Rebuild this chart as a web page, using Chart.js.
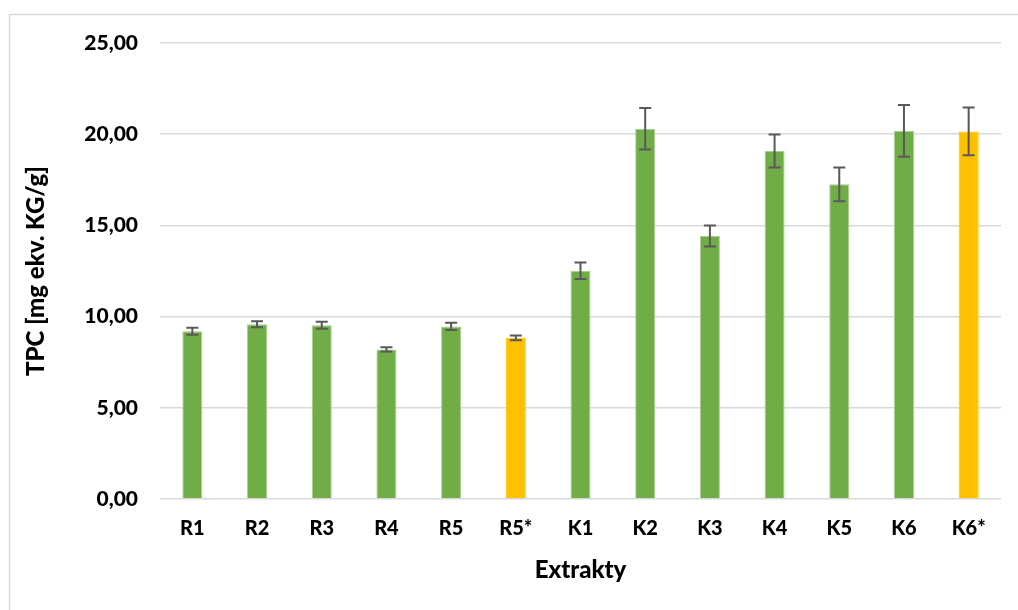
<!DOCTYPE html>
<html>
<head>
<meta charset="utf-8">
<script src="https://cdn.jsdelivr.net/npm/chart.js@4"></script>
<style>
  html, body { margin: 0; padding: 0; background: #ffffff; overflow: hidden; }
  #wrap { width: 1018px; height: 610px; position: relative; }
  canvas { display: block; }
</style>
</head>
<body>
<div id="wrap"><canvas id="tpc" width="1018" height="610"></canvas></div>
<script>
// Extract labels (starred samples are highlighted)
const categories = ['R1', 'R2', 'R3', 'R4', 'R5', 'R5*', 'K1', 'K2', 'K3', 'K4', 'K5', 'K6', 'K6*'];
// Total phenolic content, mg gallic-acid equivalents per g
const tpcValues = [9.20, 9.58, 9.53, 8.20, 9.46, 8.84, 12.51, 20.30, 14.42, 19.08, 17.25, 20.18, 20.15];
// Standard deviations
const tpcErrors = [0.19, 0.17, 0.19, 0.12, 0.20, 0.13, 0.45, 1.14, 0.57, 0.90, 0.93, 1.42, 1.31];
// Y-axis ticks
const yTicks = [0, 5, 10, 15, 20, 25];

const GREEN = '#70ad47';
const GOLD = '#ffc000';
const FONT = 'Lato, "Open Sans", "DejaVu Sans", sans-serif';

const barColors = categories.map(c => c.includes('*') ? GOLD : GREEN);
const barBorders = categories.map(c => c.includes('*') ? GOLD : '#a8cf8f');

// Outer frame: top and left edges only
const framePlugin = {
  id: 'frame',
  beforeDraw(chart) {
    const ctx = chart.ctx;
    ctx.save();
    ctx.fillStyle = '#ffffff';
    ctx.fillRect(0, 0, chart.width, chart.height);
    ctx.strokeStyle = '#d9d9d9';
    ctx.lineWidth = 1.5;
    ctx.beginPath();
    ctx.moveTo(9.5, chart.height);
    ctx.lineTo(9.5, 14.5);
    ctx.lineTo(chart.width, 14.5);
    ctx.stroke();
    ctx.restore();
  }
};

// Error bars drawn from each value +/- its deviation through the y scale
const errorBarPlugin = {
  id: 'errorBars',
  afterDatasetsDraw(chart) {
    const ctx = chart.ctx;
    const yScale = chart.scales.y;
    const meta = chart.getDatasetMeta(0);
    const ds = chart.data.datasets[0];
    ctx.save();
    ctx.strokeStyle = '#595959';
    ctx.lineWidth = 2;
    meta.data.forEach((bar, i) => {
      const v = ds.data[i];
      const e = ds.errors[i];
      const x = bar.x;
      const yHi = yScale.getPixelForValue(v + e);
      const yLo = yScale.getPixelForValue(v - e);
      const cap = 6;
      ctx.beginPath();
      ctx.moveTo(x, yHi);
      ctx.lineTo(x, yLo);
      ctx.moveTo(x - cap, yHi);
      ctx.lineTo(x + cap, yHi);
      ctx.moveTo(x - cap, yLo);
      ctx.lineTo(x + cap, yLo);
      ctx.stroke();
    });
    ctx.restore();
  }
};

new Chart(document.getElementById('tpc'), {
  type: 'bar',
  data: {
    labels: categories,
    datasets: [{
      data: tpcValues,
      errors: tpcErrors,
      backgroundColor: barColors,
      borderColor: barBorders,
      borderWidth: 1,
      categoryPercentage: 1.0,
      barPercentage: 0.31
    }]
  },
  options: {
    responsive: false,
    animation: false,
    devicePixelRatio: 1,
    layout: { padding: { left: 12, top: 43, right: 17, bottom: 0 } },
    plugins: {
      legend: { display: false },
      tooltip: { enabled: false }
    },
    scales: {
      x: {
        offset: true,
        grid: { display: false, drawTicks: false },
        border: { display: false },
        ticks: {
          color: '#000000',
          padding: 18,
          font: { family: FONT, size: 20, weight: 900 }
        },
        title: {
          display: true,
          text: 'Extrakty',
          color: '#000000',
          padding: { top: 0, bottom: 25 },
          font: { family: FONT, size: 24, weight: 900 }
        },
        afterFit(scale) { scale.height = 111; }
      },
      y: {
        min: 0,
        max: 25,
        afterBuildTicks(scale) { scale.ticks = yTicks.map(v => ({ value: v })); },
        grid: { color: '#d9d9d9', lineWidth: 1.5, drawTicks: false },
        border: { display: false },
        ticks: {
          color: '#000000',
          padding: 22,
          font: { family: FONT, size: 21, weight: 900 },
          callback: v => v.toFixed(2).replace('.', ',')
        },
        title: {
          display: true,
          text: 'TPC [mg ekv. KG/g]',
          color: '#000000',
          padding: { top: 10, bottom: 0 },
          font: { family: FONT, size: 24, weight: 900 }
        },
        afterFit(scale) { scale.width = 148; }
      }
    }
  },
  plugins: [framePlugin, errorBarPlugin]
});
</script>
</body>
</html>
